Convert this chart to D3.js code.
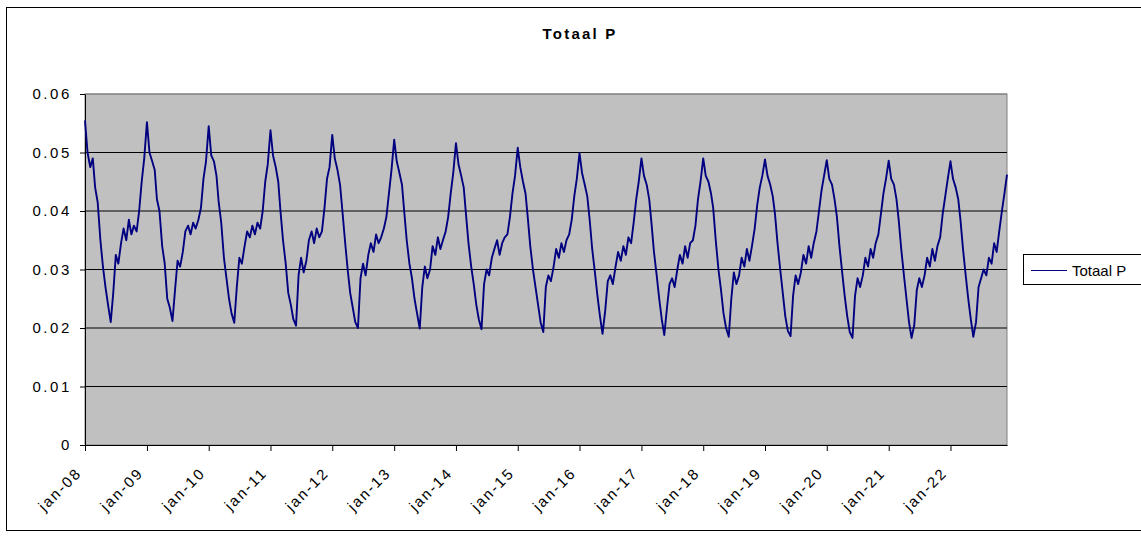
<!DOCTYPE html>
<html>
<head>
<meta charset="utf-8">
<script src="https://cdn.jsdelivr.net/npm/d3@7"></script>
<style>
  body { margin: 0; background: #fff; }
  text { font-family: Arial, "Liberation Sans", sans-serif; }
</style>
</head>
<body>
<script>

var Width = 1141;     // of SVG
var Height = 536;     // of SVG
var Plot = {left: 85, right: 1007, top: 94, bottom: 445};   // grey plot area
var Title = "Totaal P";
var SeriesName = "Totaal P";

// y axis
var yTicks = [0, 0.01, 0.02, 0.03, 0.04, 0.05, 0.06];
var yTickLabels = ["0", "0.01", "0.02", "0.03", "0.04", "0.05", "0.06"];

// x axis, one tick per january
var xTickYears = [2008, 2009, 2010, 2011, 2012, 2013, 2014, 2015, 2016, 2017, 2018, 2019, 2020, 2021, 2022];
var xTickLabels = ["jan-08", "jan-09", "jan-10", "jan-11", "jan-12", "jan-13", "jan-14", "jan-15",
                   "jan-16", "jan-17", "jan-18", "jan-19", "jan-20", "jan-21", "jan-22"];

// Totaal P, read twice a month (1st and 16th) off the picture
var p2008 = [0.0555, 0.0500, 0.0475, 0.0490, 0.0440, 0.0415, 0.0350, 0.0305, 0.0270, 0.0240, 0.0210, 0.0260,
             0.0325, 0.0310, 0.0345, 0.0370, 0.0350, 0.0385, 0.0360, 0.0375, 0.0365, 0.0400, 0.0450, 0.0490];
var p2009 = [0.0552, 0.0500, 0.0485, 0.0470, 0.0420, 0.0400, 0.0340, 0.0310, 0.0250, 0.0235, 0.0212, 0.0265,
             0.0315, 0.0305, 0.0330, 0.0365, 0.0375, 0.0360, 0.0380, 0.0370, 0.0385, 0.0405, 0.0455, 0.0485];
var p2010 = [0.0545, 0.0495, 0.0485, 0.0460, 0.0415, 0.0380, 0.0320, 0.0285, 0.0250, 0.0225, 0.0209, 0.0270,
             0.0320, 0.0310, 0.0340, 0.0365, 0.0355, 0.0375, 0.0360, 0.0380, 0.0370, 0.0400, 0.0450, 0.0480];
var p2011 = [0.0538, 0.0495, 0.0475, 0.0450, 0.0400, 0.0350, 0.0310, 0.0260, 0.0240, 0.0215, 0.0204, 0.0290,
             0.0320, 0.0295, 0.0315, 0.0350, 0.0365, 0.0345, 0.0370, 0.0355, 0.0365, 0.0405, 0.0455, 0.0475];
var p2012 = [0.0530, 0.0490, 0.0470, 0.0445, 0.0400, 0.0350, 0.0300, 0.0260, 0.0235, 0.0210, 0.0200, 0.0285,
             0.0310, 0.0290, 0.0325, 0.0345, 0.0330, 0.0360, 0.0345, 0.0355, 0.0370, 0.0390, 0.0430, 0.0470];
var p2013 = [0.0522, 0.0485, 0.0465, 0.0445, 0.0400, 0.0350, 0.0310, 0.0285, 0.0250, 0.0225, 0.0199, 0.0270,
             0.0305, 0.0285, 0.0300, 0.0340, 0.0325, 0.0355, 0.0335, 0.0350, 0.0365, 0.0390, 0.0430, 0.0465];
var p2014 = [0.0516, 0.0480, 0.0460, 0.0440, 0.0395, 0.0345, 0.0305, 0.0275, 0.0240, 0.0215, 0.0198, 0.0275,
             0.0300, 0.0290, 0.0320, 0.0335, 0.0350, 0.0325, 0.0345, 0.0355, 0.0360, 0.0390, 0.0430, 0.0460];
var p2015 = [0.0508, 0.0475, 0.0450, 0.0430, 0.0390, 0.0340, 0.0300, 0.0270, 0.0240, 0.0210, 0.0193, 0.0270,
             0.0290, 0.0280, 0.0305, 0.0335, 0.0320, 0.0345, 0.0330, 0.0350, 0.0360, 0.0385, 0.0425, 0.0455];
var p2016 = [0.0499, 0.0465, 0.0445, 0.0425, 0.0385, 0.0335, 0.0295, 0.0255, 0.0220, 0.0190, 0.0230, 0.0280,
             0.0290, 0.0275, 0.0305, 0.0330, 0.0315, 0.0340, 0.0325, 0.0355, 0.0345, 0.0380, 0.0420, 0.0450];
var p2017 = [0.0490, 0.0460, 0.0445, 0.0420, 0.0380, 0.0330, 0.0290, 0.0250, 0.0215, 0.0188, 0.0235, 0.0275,
             0.0285, 0.0270, 0.0300, 0.0325, 0.0310, 0.0340, 0.0320, 0.0345, 0.0350, 0.0375, 0.0420, 0.0450];
var p2018 = [0.0490, 0.0460, 0.0450, 0.0430, 0.0405, 0.0350, 0.0300, 0.0265, 0.0225, 0.0200, 0.0185, 0.0250,
             0.0295, 0.0275, 0.0290, 0.0320, 0.0305, 0.0335, 0.0315, 0.0340, 0.0370, 0.0410, 0.0440, 0.0460];
var p2019 = [0.0488, 0.0460, 0.0445, 0.0425, 0.0395, 0.0345, 0.0300, 0.0260, 0.0220, 0.0195, 0.0186, 0.0255,
             0.0290, 0.0275, 0.0295, 0.0325, 0.0310, 0.0340, 0.0320, 0.0345, 0.0365, 0.0400, 0.0435, 0.0460];
var p2020 = [0.0487, 0.0455, 0.0445, 0.0420, 0.0390, 0.0340, 0.0295, 0.0255, 0.0220, 0.0193, 0.0183, 0.0255,
             0.0285, 0.0270, 0.0290, 0.0320, 0.0305, 0.0335, 0.0320, 0.0345, 0.0360, 0.0395, 0.0430, 0.0455];
var p2021 = [0.0486, 0.0455, 0.0445, 0.0420, 0.0385, 0.0335, 0.0290, 0.0250, 0.0210, 0.0183, 0.0205, 0.0265,
             0.0285, 0.0270, 0.0290, 0.0320, 0.0305, 0.0335, 0.0315, 0.0340, 0.0355, 0.0395, 0.0425, 0.0455];
var p2022 = [0.0485, 0.0455, 0.0440, 0.0420, 0.0385, 0.0335, 0.0290, 0.0250, 0.0215, 0.0185, 0.0210, 0.0270,
             0.0285, 0.0300, 0.0290, 0.0320, 0.0310, 0.0345, 0.0330, 0.0365, 0.0400, 0.0430, 0.0462];

var SeriesByYear = [
  [2008, p2008], [2009, p2009], [2010, p2010], [2011, p2011], [2012, p2012],
  [2013, p2013], [2014, p2014], [2015, p2015], [2016, p2016], [2017, p2017],
  [2018, p2018], [2019, p2019], [2020, p2020], [2021, p2021], [2022, p2022]
];


function buildData () {
  // value i of a year sits on the 1st (even i) or the 16th (odd i) of month i/2
  var data = [];
  SeriesByYear.forEach(function(row) {
    row[1].forEach(function(v, i) {
      data.push({date: new Date(row[0], Math.floor(i / 2), i % 2 ? 16 : 1), value: v});
    });
  });
  return data;
}

function main () {

  var data = buildData();
  var svg = makeSVG();

  var xScale = d3.scaleTime()
    .domain(d3.extent(data, function(d) { return d.date; }))
    .range([Plot.left, Plot.right]);
  var yScale = d3.scaleLinear()
    .domain([0, 0.06])
    .range([Plot.bottom, Plot.top]);

  // chart border
  svg.append("rect")
    .attr("x", 6.5).attr("y", 7.5)
    .attr("width", Width).attr("height", 523)
    .attr("fill", "#fff")
    .attr("stroke", "#000");

  svg.append("text")
    .attr("x", 580).attr("y", 38.5)
    .attr("text-anchor", "middle")
    .style("font-size", "15px")
    .style("font-weight", "bold")
    .style("letter-spacing", "2.2px")
    .text(Title);

  makePlotArea(svg, xScale, yScale);
  makeAxes(svg, xScale, yScale);
  makeLine(svg, data, xScale, yScale);
  makeLegend(svg);
}

function makePlotArea (svg, xScale, yScale) {
  svg.append("rect")
    .attr("x", Plot.left).attr("y", Plot.top)
    .attr("width", Plot.right - Plot.left).attr("height", Plot.bottom - Plot.top)
    .attr("fill", "#c0c0c0")
    .attr("stroke", "#808080");

  svg.selectAll("line.grid")
    .data(yTicks.slice(1))
    .enter()
    .append("line")
    .attr("class", "grid")
    .attr("x1", Plot.left).attr("x2", Plot.right)
    .attr("y1", function(d) { return yScale(d); })
    .attr("y2", function(d) { return yScale(d); })
    .attr("stroke", function(d) { return d === 0.06 ? "#808080" : "#000"; })
    .attr("stroke-width", 1);
}

function makeAxes (svg, xScale, yScale) {

  var yAxis = d3.axisLeft(yScale)
    .tickValues(yTicks)
    .tickSize(5)
    .tickSizeOuter(0)
    .tickPadding(8)
    .tickFormat(function(d, i) { return yTickLabels[i]; });

  var gy = svg.append("g")
    .attr("class", "y axis")
    .attr("transform", "translate(" + Plot.left + ",0)")
    .call(yAxis);
  gy.select(".domain").attr("stroke", "#000");
  gy.selectAll(".tick line").attr("stroke", "#000");
  gy.selectAll("text")
    .style("font-size", "15px")
    .style("letter-spacing", "2.6px")
    .attr("fill", "#000")
    .attr("font-family", null);

  var xAxis = d3.axisBottom(xScale)
    .tickValues(xTickYears.map(function(y) { return new Date(y, 0, 1); }))
    .tickSize(6)
    .tickSizeOuter(0)
    .tickFormat(function(d, i) { return xTickLabels[i]; });

  var gx = svg.append("g")
    .attr("class", "x axis")
    .attr("transform", "translate(0," + Plot.bottom + ")")
    .call(xAxis);
  gx.select(".domain").attr("stroke", "#000");
  gx.selectAll(".tick line").attr("stroke", "#000");
  gx.selectAll("text")
    .attr("y", 0).attr("dy", 0)
    .attr("transform", "translate(-3,29) rotate(-45)")
    .style("text-anchor", "end")
    .style("font-size", "15px")
    .style("letter-spacing", "2px")
    .attr("fill", "#000")
    .attr("font-family", null);
}

function makeLine (svg, data, xScale, yScale) {
  var line = d3.line()
    .x(function(d) { return xScale(d.date); })
    .y(function(d) { return yScale(d.value); });

  svg.append("path")
    .datum(data)
    .attr("class", "series")
    .attr("d", line)
    .attr("fill", "none")
    .attr("stroke", "#000080")
    .attr("stroke-width", 1.9)
    .attr("stroke-linejoin", "round");
}

function makeLegend (svg) {
  var g = svg.append("g").attr("class", "legend");
  g.append("rect")
    .attr("x", 1023.5).attr("y", 254.5)
    .attr("width", 140).attr("height", 30)
    .attr("fill", "#fff")
    .attr("stroke", "#000");
  g.append("line")
    .attr("x1", 1031).attr("x2", 1067)
    .attr("y1", 270.5).attr("y2", 270.5)
    .attr("stroke", "#000080");
  g.append("text")
    .attr("x", 1072).attr("y", 275.5)
    .style("font-size", "15px")
    .text(SeriesName);
}

function makeSVG () {
  var svg = d3.select("body")
    .append("svg")
    .attr("width", Width)
    .attr("height", Height);
  return svg;
}

main();
</script>
</body>
</html>
